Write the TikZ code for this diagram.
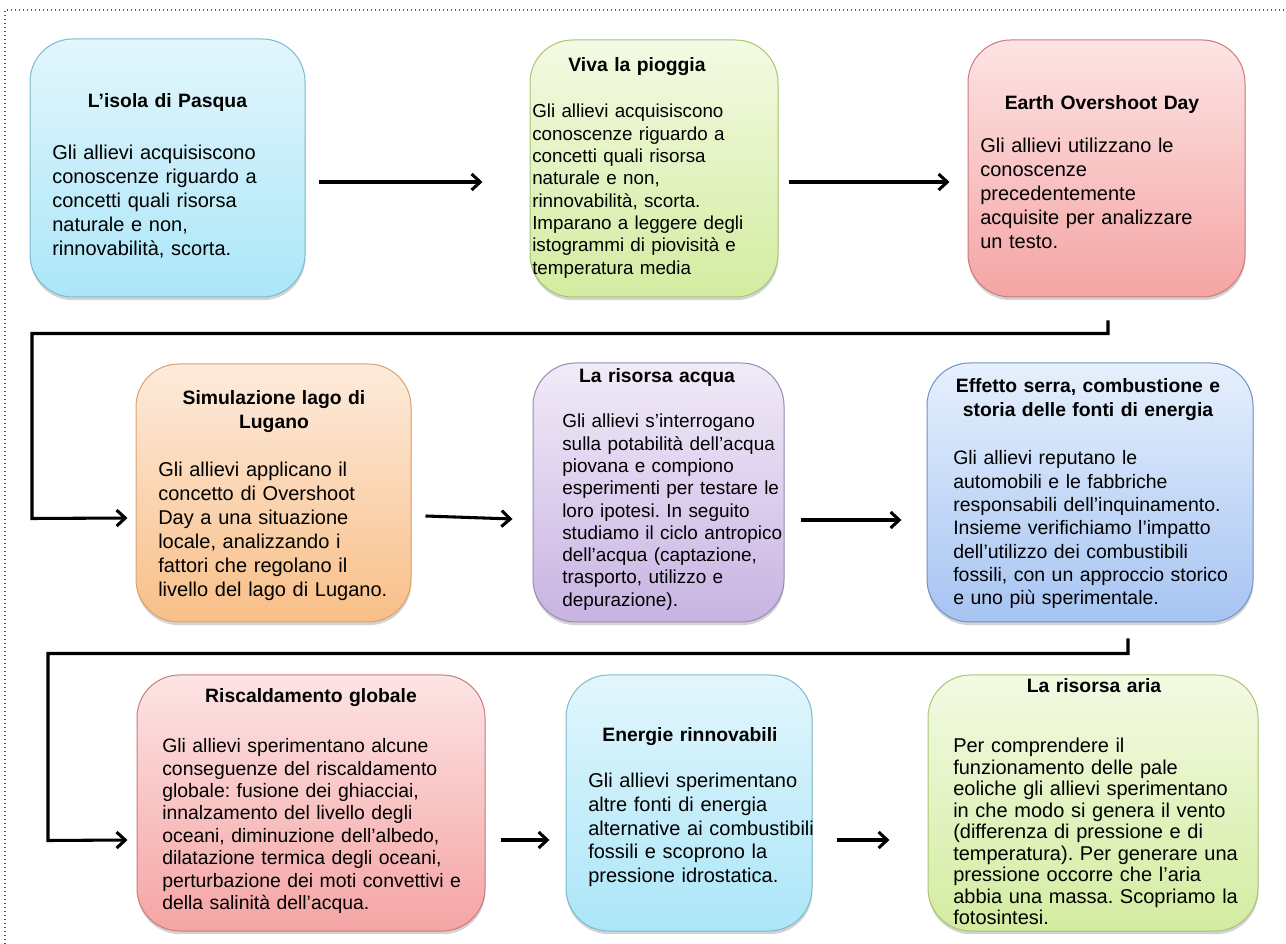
\documentclass[tikz,border=0pt]{standalone}
\usepackage{fontspec}
\setmainfont{Liberation Sans}
\frenchspacing
\usetikzlibrary{calc,arrows.meta,shadows}
\definecolor{cyanT}{HTML}{E2F6FC}\definecolor{cyanB}{HTML}{ABE6F8}\definecolor{cyanD}{HTML}{7DB9CD}
\definecolor{grnT}{HTML}{F3FAE3}\definecolor{grnB}{HTML}{D3ECA0}\definecolor{grnD}{HTML}{A9C572}
\definecolor{redT}{HTML}{FDE4E4}\definecolor{redB}{HTML}{F5A4A4}\definecolor{redD}{HTML}{C97B7B}
\definecolor{orgT}{HTML}{FDEBDC}\definecolor{orgB}{HTML}{F8BF88}\definecolor{orgD}{HTML}{D9A170}
\definecolor{purT}{HTML}{F1EBF8}\definecolor{purB}{HTML}{C8B3E2}\definecolor{purD}{HTML}{9A89B5}
\definecolor{bluT}{HTML}{E6F0FD}\definecolor{bluB}{HTML}{A6C4F2}\definecolor{bluD}{HTML}{7191C4}
\tikzset{
  box/.style={line width=0.75pt, rounded corners=32pt,
    drop shadow={shadow xshift=0.3pt, shadow yshift=-2.4pt, opacity=0.35}},
  cyanbox/.style={box, draw=cyanD, top color=cyanT, bottom color=cyanB},
  grnbox/.style={box, draw=grnD, top color=grnT, bottom color=grnB},
  redbox/.style={box, draw=redD, top color=redT, bottom color=redB},
  orgbox/.style={box, draw=orgD, top color=orgT, bottom color=orgB},
  purbox/.style={box, draw=purD, top color=purT, bottom color=purB},
  blubox/.style={box, draw=bluD, top color=bluT, bottom color=bluB},
  ttl/.style={anchor=base, align=center, text width=250pt, inner sep=0pt,
    font=\bfseries\fontsize{14.5}{17.5}\selectfont},
  body/.style={anchor=base west, align=left, text width=290pt, inner sep=0pt},
  link/.style={line width=2.3pt, black},
  arr/.style={link, -{Straight Barb[length=6.5pt,width=12pt]}},
  frame/.style={gray!70!black, line width=0.9pt, dash pattern=on 0.9pt off 2.1pt}
}
\begin{document}
\begin{tikzpicture}[x=0.75pt,y=-0.75pt]
\useasboundingbox (0,0) rectangle (1286,944);
\draw[frame] (5,944) -- (5,10) -- (1286,10);

% Row 1
\node[cyanbox, minimum width=206.25pt, minimum height=193.5pt] (b1) at (167.5,168) {};
\node[ttl] (t1) at (167.5,108) {L’isola di Pasqua};
\node[body, font=\fontsize{15}{18}\selectfont] (d1) at (52,160) {Gli allievi acquisiscono\\conoscenze riguardo a\\concetti quali risorsa\\naturale e non,\\rinnovabilità, scorta.};

\node[grnbox, minimum width=186pt, minimum height=192.75pt] (b2) at (654,168.5) {};
\node[ttl] (t2) at (637,72) {Viva la pioggia};
\node[body, font=\fontsize{14.1}{16.75}\selectfont] (d2) at (532,118) {Gli allievi acquisiscono\\conoscenze riguardo a\\concetti quali risorsa\\naturale e non,\\rinnovabilità, scorta.\\Imparano a leggere degli\\istogrammi di piovisità e\\temperatura media};

\node[redbox, minimum width=207.75pt, minimum height=192.75pt] (b3) at (1106.5,168.5) {};
\node[ttl] (t3) at (1102,110) {Earth Overshoot Day};
\node[body, font=\fontsize{15}{18}\selectfont] (d3) at (980,153) {Gli allievi utilizzano le\\conoscenze\\precedentemente\\acquisite per analizzare\\un testo.};

% Row 2
\node[orgbox, minimum width=206.25pt, minimum height=193.5pt] (b4) at (273.5,493) {};
\node[ttl] (t4) at (274,405) {Simulazione lago di\\Lugano};
\node[body, font=\fontsize{15}{18}\selectfont] (d4) at (158,477) {Gli allievi applicano il\\concetto di Overshoot\\Day a una situazione\\locale, analizzando i\\fattori che regolano il\\livello del lago di Lugano.};

\node[purbox, minimum width=188.25pt, minimum height=194.25pt] (b5) at (658.5,492.5) {};
\node[ttl] (t5) at (657,383) {La risorsa acqua};
\node[body, font=\fontsize{14.2}{16.7}\selectfont] (d5) at (562,428) {Gli allievi s’interrogano\\sulla potabilità dell’acqua\\piovana e compiono\\esperimenti per testare le\\loro ipotesi. In seguito\\studiamo il ciclo antropico\\dell’acqua (captazione,\\trasporto, utilizzo e\\depurazione).};

\node[blubox, minimum width=244.5pt, minimum height=194.25pt] (b6) at (1090,492.5) {};
\node[ttl] (t6) at (1088,393) {Effetto serra, combustione e\\storia delle fonti di energia};
\node[body, font=\fontsize{14.6}{17.5}\selectfont] (d6) at (953,465) {Gli allievi reputano le\\automobili e le fabbriche\\responsabili dell’inquinamento.\\Insieme verifichiamo l’impatto\\dell’utilizzo dei combustibili\\fossili, con un approccio storico\\e uno più sperimentale.};

% Row 3
\node[redbox, minimum width=261pt, minimum height=192pt] (b7) at (311,803) {};
\node[ttl] (t7) at (311,703) {Riscaldamento globale};
\node[body, font=\fontsize{14.55}{16.75}\selectfont] (d7) at (162,753) {Gli allievi sperimentano alcune\\conseguenze del riscaldamento\\globale: fusione dei ghiacciai,\\innalzamento del livello degli\\oceani, diminuzione dell’albedo,\\dilatazione termica degli oceani,\\perturbazione dei moti convettivi e\\della salinità dell’acqua.};

\node[cyanbox, minimum width=184.5pt, minimum height=192pt] (b8) at (689,803) {};
\node[ttl] (t8) at (690,741) {Energie rinnovabili};
\node[body, font=\fontsize{15}{18}\selectfont] (d8) at (588,787) {Gli allievi sperimentano\\altre fonti di energia\\alternative ai combustibili\\fossili e scoprono la\\pressione idrostatica.};

\node[grnbox, minimum width=247.5pt, minimum height=192pt] (b9) at (1093,803) {};
\node[ttl] (t9) at (1094,693) {La risorsa aria};
\node[body, font=\fontsize{15}{16.1}\selectfont] (d9) at (953,753) {Per comprendere il\\funzionamento delle pale\\eoliche gli allievi sperimentano\\in che modo si genera il vento\\(differenza di pressione e di\\temperatura). Per generare una\\pressione occorre che l’aria\\abbia una massa. Scopriamo la\\fotosintesi.};

% Connectors
\draw[arr] ($(b1.east)+(13,14)$) -- ($(b2.west)+(-47,13.5)$);
\draw[arr] ($(b2.east)+(10,13.5)$) -- ($(b3.west)+(-18,13.5)$);
\draw[arr] ($(b3.south)+(1.5,23)$) -- ++(0,13) -- ++(-1076,0) -- ++(0,185) -- ($(b4.west)+(-8,25)$);
\draw[arr] ($(b4.east)+(14,23)$) -- ($(b5.west)+(-20,26.5)$);
\draw[arr] ($(b5.east)+(16,27.5)$) -- ($(b6.west)+(-25,27.5)$);
\draw[arr] ($(b6.south)+(38,16)$) -- ++(0,15) -- ++(-1080,0) -- ++(0,187) -- ($(b7.west)+(-9,37)$);
\draw[arr] ($(b7.east)+(15,37)$) -- ($(b8.west)+(-16,37)$);
\draw[arr] ($(b8.east)+(24,37)$) -- ($(b9.west)+(-38,37)$);
\end{tikzpicture}
\end{document}
